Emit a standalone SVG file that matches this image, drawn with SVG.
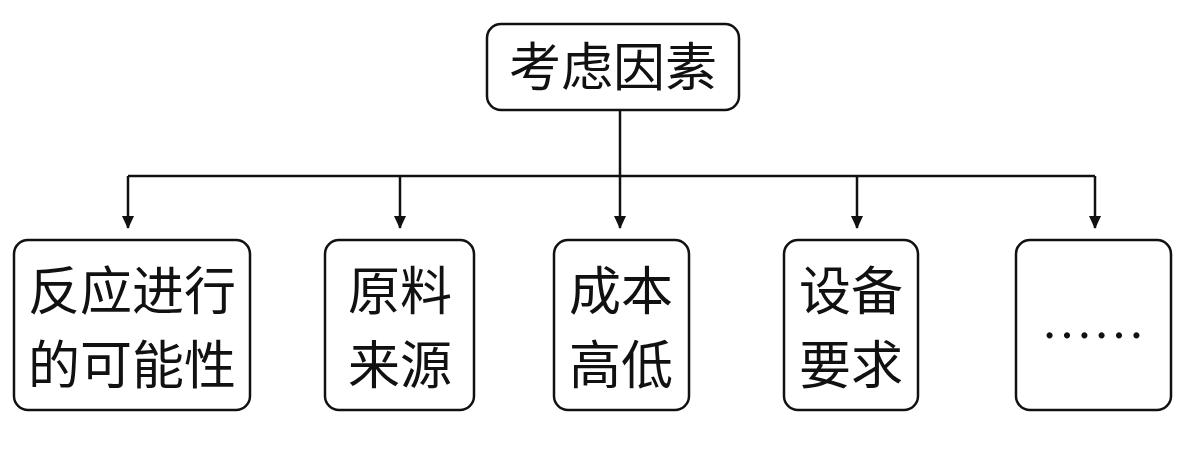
<svg xmlns="http://www.w3.org/2000/svg" width="1200" height="459" viewBox="0 0 1200 459">
<style>
.box{fill:#fff;stroke:#111;stroke-width:2.5}
.t{font-family:"Liberation Serif","Noto Sans CJK SC",serif;font-size:52px;fill:#111;text-anchor:middle}
.c{fill:none;stroke:#111;stroke-width:2.5}
</style>
<defs><marker id="a" markerWidth="14" markerHeight="14" refX="12" refY="7" orient="auto" markerUnits="userSpaceOnUse"><path d="M0,1 L13,7 L0,13 Z" fill="#111"/></marker></defs>
<rect width="1200" height="459" fill="#fff"/>
<g id="connectors">
<path class="c" d="M620,110 V176"/>
<path class="c" d="M128,176 H1095"/>
<path class="c" d="M128,176 V228" marker-end="url(#a)"/>
<path class="c" d="M400,176 V228" marker-end="url(#a)"/>
<path class="c" d="M620,176 V228" marker-end="url(#a)"/>
<path class="c" d="M857,176 V228" marker-end="url(#a)"/>
<path class="c" d="M1095,176 V228" marker-end="url(#a)"/>
</g>
<g id="root"><rect class="box" x="487" y="24" width="252" height="86" rx="14"/><text class="t" x="613" y="86">考虑因素</text></g>
<g id="n1"><rect class="box" x="14" y="240" width="236" height="170" rx="14"/><text class="t" x="132" y="310">反应进行</text><text class="t" x="132" y="384">的可能性</text></g>
<g id="n2"><rect class="box" x="325" y="240" width="149" height="170" rx="14"/><text class="t" x="400" y="310">原料</text><text class="t" x="400" y="384">来源</text></g>
<g id="n3"><rect class="box" x="554" y="240" width="135" height="170" rx="14"/><text class="t" x="621" y="310">成本</text><text class="t" x="621" y="384">高低</text></g>
<g id="n4"><rect class="box" x="784" y="240" width="134" height="170" rx="14"/><text class="t" x="851" y="310">设备</text><text class="t" x="851" y="384">要求</text></g>
<g id="n5"><rect class="box" x="1016" y="240" width="155" height="170" rx="14"/><text class="t" x="1093" y="338">……</text></g>
</svg>
